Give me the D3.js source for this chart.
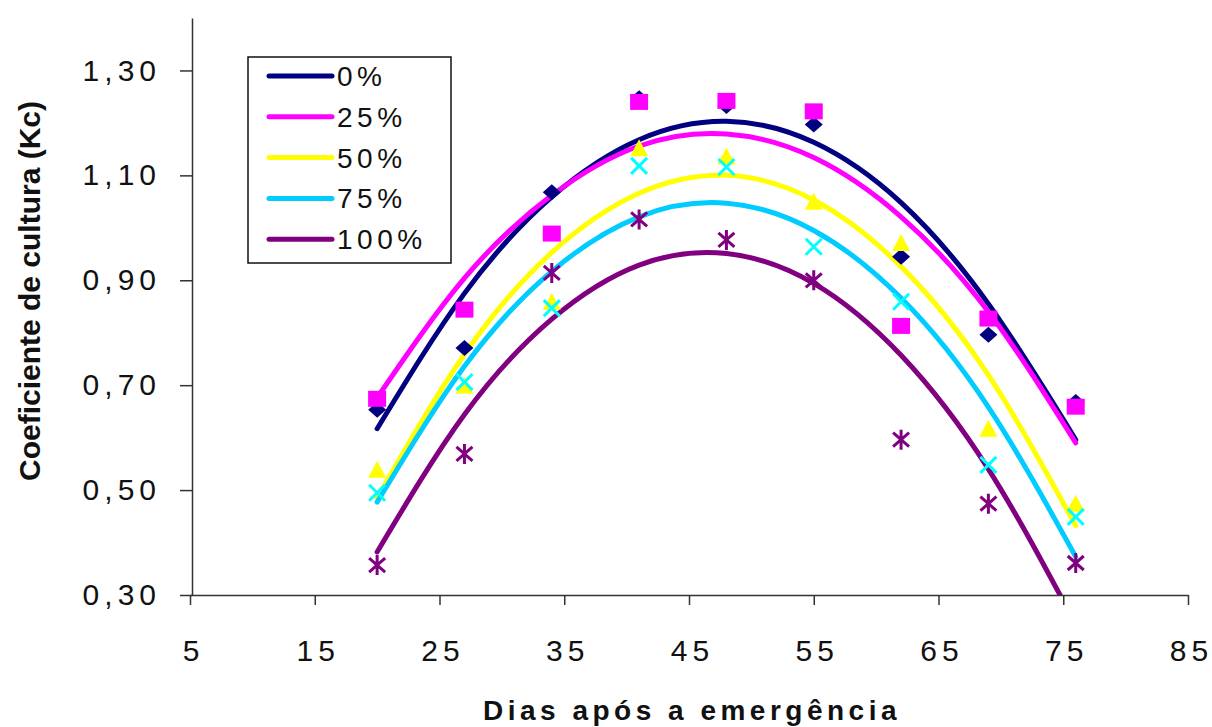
<!DOCTYPE html>
<html>
<head>
<meta charset="utf-8">
<script src="https://cdn.jsdelivr.net/npm/d3@7"></script>
<style>
    body { margin: 0; background: #fff; }
    svg { display: block; font-family: Arial, "Liberation Sans", sans-serif; }
</style>
</head>
<body>
<svg id="chart" width="1212" height="727"></svg>
<script>
// dias apos a emergencia
const days = [20, 27, 34, 41, 48, 55, 62, 69, 76];

// observed Kc
const kc0 = [0.653, 0.771, 1.068, 1.247, 1.232, 1.197, 0.945, 0.796, 0.668];
const kc25 = [0.674, 0.844, 0.989, 1.240, 1.242, 1.222, 0.813, 0.827, 0.659];
const kc50 = [0.537, 0.697, 0.857, 1.150, 1.134, 1.048, 0.969, 0.615, 0.472];
const kc75 = [0.495, 0.706, 0.847, 1.118, 1.116, 0.964, 0.859, 0.548, 0.449];
const kc100 = [0.357, 0.569, 0.914, 1.016, 0.977, 0.900, 0.596, 0.474, 0.361];

// trend lines (at the same days)
const trend0 = [0.617, 0.875, 1.059, 1.168, 1.203, 1.163, 1.048, 0.855, 0.596];
const trend25 = [0.676, 0.904, 1.062, 1.156, 1.179, 1.134, 1.021, 0.840, 0.590];
const trend50 = [0.485, 0.759, 0.953, 1.066, 1.100, 1.053, 0.926, 0.719, 0.432];
const trend75 = [0.477, 0.736, 0.917, 1.021, 1.047, 0.995, 0.866, 0.658, 0.373];
const trend100 = [0.382, 0.644, 0.826, 0.929, 0.951, 0.894, 0.757, 0.540, 0.244];

const seriesNames = ['0%', '25%', '50%', '75%', '100%'];
const xTicks = [5, 15, 25, 35, 45, 55, 65, 75, 85];
const yTicks = [0.30, 0.50, 0.70, 0.90, 1.10, 1.30];

const series = [
    {name: seriesNames[0], obs: kc0, trend: trend0, line: '#000080', mark: '#000080', shape: 'diamond'},
    {name: seriesNames[1], obs: kc25, trend: trend25, line: '#ff00ff', mark: '#ff00ff', shape: 'square'},
    {name: seriesNames[2], obs: kc50, trend: trend50, line: '#ffff00', mark: '#ffff00', shape: 'triangle'},
    {name: seriesNames[3], obs: kc75, trend: trend75, line: '#00ccff', mark: '#00ffff', shape: 'cross'},
    {name: seriesNames[4], obs: kc100, trend: trend100, line: '#800080', mark: '#800080', shape: 'star'}
];

const svg = d3.select('#chart');
const x = d3.scaleLinear().domain([5, 85]).range([190, 1188]);
const y = d3.scaleLinear().domain([0.3, 1.4]).range([595, 18]);

svg.append('defs').append('clipPath')
    .attr('id', 'plotClip')
    .append('rect')
    .attr('x', x(5)).attr('y', y(1.4))
    .attr('width', x(85) - x(5)).attr('height', y(0.3) - y(1.4));

// axes
const fmt = d => d.toFixed(2).replace('.', ',');

const yAxis = svg.append('g')
    .attr('transform', 'translate(' + (x(5) + 2) + ',0)')
    .call(d3.axisLeft(y).tickValues(yTicks).tickFormat(fmt).tickSize(12).tickSizeOuter(0).tickPadding(19));

const xAxis = svg.append('g')
    .attr('transform', 'translate(0,' + y(0.3) + ')')
    .call(d3.axisBottom(x).tickValues(xTicks).tickSize(10).tickSizeOuter(0).tickPadding(35));

[xAxis, yAxis].forEach(g => {
    g.select('.domain').attr('stroke', '#333').attr('stroke-width', 1.5);
    g.selectAll('.tick line').attr('stroke', '#333').attr('stroke-width', 1.5);
    g.selectAll('.tick text')
        .attr('fill', '#111')
        .style('font-size', '30px')
        .style('letter-spacing', '5px');
});
xAxis.selectAll('.tick text').attr('dx', 3);

// trend lines
const line = d3.line()
    .x((d, i) => x(days[i]))
    .y(d => y(d))
    .curve(d3.curveNatural);

const curves = svg.append('g').attr('clip-path', 'url(#plotClip)');
series.forEach(s => {
    curves.append('path')
        .datum(s.trend)
        .attr('d', line)
        .attr('fill', 'none')
        .attr('stroke', s.line)
        .attr('stroke-width', 5)
        .attr('stroke-linecap', 'round');
});

// markers
function markerPath(shape) {
    switch (shape) {
        case 'diamond':
            return 'M0,-8L9,0L0,8L-9,0Z';
        case 'square':
            return 'M-9,-8H9V8H-9Z';
        case 'triangle':
            return 'M0,-10L9,7H-9Z';
        case 'cross':
            return 'M-8,-8L8,8M-8,8L8,-8';
        case 'star':
            return 'M-8,-7L8,7M-8,7L8,-7M0,-10V10';
    }
}

series.forEach(s => {
    const filled = s.shape === 'diamond' || s.shape === 'square' || s.shape === 'triangle';
    svg.append('g').selectAll('path')
        .data(s.obs)
        .enter()
        .append('path')
        .attr('transform', (d, i) => 'translate(' + x(days[i]) + ',' + y(d) + ')')
        .attr('d', markerPath(s.shape))
        .attr('fill', filled ? s.mark : 'none')
        .attr('stroke', filled ? 'none' : s.mark)
        .attr('stroke-width', 3);
});

// legend
const legend = svg.append('g');
legend.append('rect')
    .attr('x', 248).attr('y', 57)
    .attr('width', 203).attr('height', 206)
    .attr('fill', '#fff')
    .attr('stroke', '#111')
    .attr('stroke-width', 1.5);

series.forEach((s, i) => {
    let cy = 76 + i * 40.8;
    legend.append('line')
        .attr('x1', 269).attr('x2', 332)
        .attr('y1', cy).attr('y2', cy)
        .attr('stroke', s.line)
        .attr('stroke-width', 5)
        .attr('stroke-linecap', 'round');
    legend.append('text')
        .attr('x', 337).attr('y', cy)
        .attr('dy', '0.36em')
        .attr('fill', '#111')
        .style('font-size', '28px')
        .style('letter-spacing', '4.5px')
        .text(s.name);
});

// axis titles
svg.append('text')
    .attr('transform', 'translate(40,291) rotate(-90)')
    .attr('text-anchor', 'middle')
    .attr('fill', '#111')
    .style('font-size', '30px')
    .style('font-weight', 'bold')
    .text('Coeficiente de cultura (Kc)');

svg.append('text')
    .attr('x', 692).attr('y', 720)
    .attr('text-anchor', 'middle')
    .attr('fill', '#111')
    .style('font-size', '28px')
    .style('font-weight', 'bold')
    .style('letter-spacing', '4.5px')
    .text('Dias após a emergência');
</script>
</body>
</html>
